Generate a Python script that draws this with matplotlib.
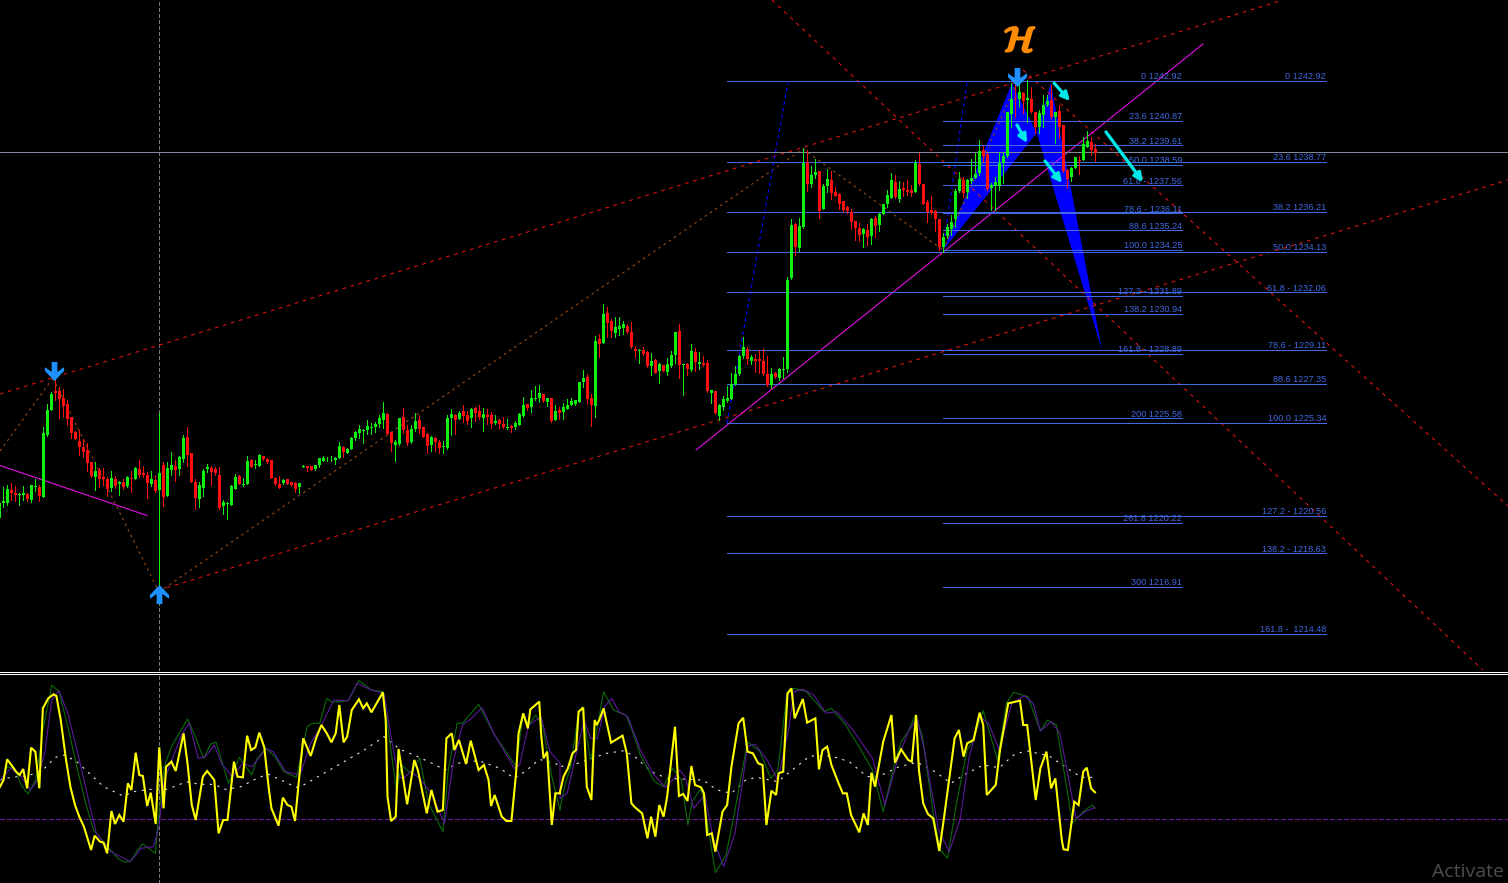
import matplotlib
matplotlib.use("Agg")
import matplotlib.pyplot as plt
import matplotlib.patheffects as pe
from matplotlib.path import Path

plt.rcParams['font.family'] = ['Liberation Sans', 'DejaVu Sans']
plt.rcParams['mathtext.fontset'] = 'stix'

# ---------- candle readings, in third-of-a-point units with a base per segment ----------
BASE_A = 1080
dir_a = "GGGRRGGRGG" "RGGGRRRRRR" "RRRRGRRRGR" "GRGRGRRRGR" "GRGGRGGRRR" "GGGRRRGGGG" "RGGRGGRRRR" "RGRRRGGRRG" "GGGGGGRGGG" "GGGGGGGRRG" "G"
top_a = [430,422,388,390,400,402,400,403,376,377,382,220,150,102,94,94,115,132,172,216,244,262,271,306,334,
         330,352,358,354,358,367,366,352,354,324,328,340,346,358,361,340,316,324,316,319,291,234,232,280,366,
         375,334,322,324,328,346,426,429,378,351,348,371,304,300,311,286,289,298,301,354,373,360,358,367,370,
         370,318,319,319,316,295,294,296,299,293,258,261,267,235,217,207,209,198,201,192,175,160,163,217,247,175]
bot_a = [473,428,430,398,405,406,405,417,420,380,408,410,225,150,100,117,137,177,218,236,260,275,310,348,351,
         357,357,387,384,377,372,382,378,358,356,345,344,368,372,392,390,410,407,330,329,326,296,285,365,413,
         416,383,326,335,340,445,437,431,434,386,371,375,371,321,314,317,297,305,353,372,383,369,371,374,387,
         380,320,323,329,328,316,302,298,301,299,293,276,278,267,233,220,212,210,204,200,192,180,221,250,254,253]
hi_a = [430,380,375,370,378,398,378,398,375,358,375,200,132,95,50,82,88,120,170,212,210,238,250,305,306,
        325,325,350,333,348,362,358,348,332,320,300,318,335,332,345,160,306,305,277,300,288,225,202,278,358,
        365,328,312,318,320,322,420,425,375,342,345,355,288,296,300,282,287,293,300,350,348,357,357,365,365,
        368,315,318,318,315,294,288,292,288,292,247,258,265,232,214,195,208,181,190,185,165,126,158,215,240,175]
lo_a = [473,440,435,420,423,435,420,422,425,392,422,410,228,150,120,173,168,195,233,238,285,290,333,352,390,
        380,375,408,393,385,405,388,380,395,358,350,352,413,378,395,690,437,408,345,362,345,305,318,365,447,
        440,408,335,375,345,447,462,477,435,388,373,378,372,322,325,318,299,310,355,375,385,372,373,378,395,
        400,322,332,331,330,320,303,304,303,312,295,290,280,268,240,235,248,223,222,215,200,205,222,272,302,255]

BASE_B = 900
dir_b = "RRGGRRRGRR" "GGGRGRRGRR" "GRRGRRGRGG" "GRGGGRGRGR" "GGGGGGRRGR"
top_b = [352,390,388,362,360,382,402,411,414,426,437,354,343,345,340,334,344,327,325,334,343,346,346,363,360,
         373,381,378,370,342,316,313,294,294,280,283,294,294,333,331,322,316,304,301,247,235,232,293,124,118]
bot_b = [390,428,426,388,388,410,437,435,426,443,440,443,353,359,356,348,362,355,338,350,353,351,372,368,371,
         381,384,383,381,374,347,323,320,296,293,303,305,363,359,338,335,326,314,311,305,245,296,315,317,131]
hi_b = [324,375,376,340,345,380,400,408,410,420,422,345,327,342,333,316,333,325,322,316,323,327,337,346,357,
        351,357,375,362,340,292,311,270,258,255,281,294,294,316,322,310,298,294,299,246,210,222,281,108,102]
lo_b = [400,435,428,393,398,412,458,452,452,458,458,447,405,402,358,365,372,380,363,357,392,372,384,373,385,
        384,388,395,387,376,350,330,335,300,305,305,317,365,360,357,357,328,316,316,306,260,308,377,350,170]

BASE_C = 390
dir_c = "GRRGGGRRRG" "RRGRGRGGGR" "GRGRGRRGRG" "GGGGGGRGRR" "RRGRGGGGRG" "GRGGRGGRRR" "RRRRRGRGRG" "GGGRGRRRGR" "RR"
top_c = [552,550,574,592,588,582,589,607,657,661,661,666,694,690,702,706,702,675,606,604,702,702,663,667,696,
         700,700,780,784,826,808,805,763,733,679,652,656,682,687,688,692,733,733,730,717,717,450,286,283,289,98,
         97,136,126,124,167,148,151,187,193,214,232,247,274,293,298,301,267,265,252,223,196,151,157,178,174,180,
         181,98,102,163,217]
bot_c = [638,578,602,608,597,594,605,652,662,664,671,707,709,728,724,722,725,707,674,706,705,716,719,695,701,
         706,784,788,850,857,830,813,806,763,731,678,688,693,692,694,731,766,765,740,745,721,716,445,350,353,292,
         163,162,134,242,236,167,190,197,221,240,243,277,293,315,311,320,317,287,285,252,223,203,200,206,180,187,
         188,185,161,221,245]
hi_c = [522,531,567,562,560,574,582,576,648,658,652,662,670,686,700,705,685,662,605,582,702,700,642,655,665,
        678,690,780,782,822,798,768,730,708,675,622,652,676,672,660,658,678,714,726,714,680,440,268,280,265,55,
        60,108,88,122,162,118,122,172,190,212,228,238,272,280,294,282,263,258,248,223,180,128,135,153,157,150,
        165,90,68,162,210]
lo_c = [638,622,622,622,615,612,608,654,680,700,675,712,734,730,758,724,735,710,700,744,795,735,722,722,718,
        708,786,818,852,870,840,815,808,765,735,685,702,702,725,728,735,768,775,745,750,745,725,447,375,362,293,
        182,170,145,263,238,185,208,198,238,245,248,298,330,333,350,345,342,322,302,252,230,205,205,216,198,195,
        198,185,165,222,275]

BASE_D = 60
dir_d = "RRRGGGGGRG" "GGGRRGGGGG" "GRGRGRRGGG" "RGRRRGGRGG" "RR"
top_d = [570,574,597,652,621,605,512,477,480,480,475,462,393,390,402,496,486,428,407,276,237,234,215,220,235,
         236,277,280,255,243,240,277,274,316,450,445,411,420,372,362,366,388]
bot_d = [578,597,680,682,648,628,597,512,518,516,484,475,460,407,506,504,497,497,430,408,283,238,237,243,240,
         277,322,321,285,255,292,290,320,454,477,471,443,423,419,380,391,398]
hi_d = [528,570,597,640,612,585,508,455,470,478,417,398,360,378,400,490,470,395,397,275,190,180,175,215,180,
        200,275,270,225,225,195,275,255,315,448,440,410,408,350,333,352,372]
lo_d = [582,632,690,695,655,645,620,515,530,535,488,475,465,425,510,570,570,510,488,410,320,290,260,280,305,
        280,340,338,320,258,295,368,355,456,503,482,445,462,420,382,404,422]

# fibonacci levels (label text carries the price)
fib_left = [("0", 1242.92), ("23.6", 1240.87), ("38.2", 1239.61), ("50.0", 1238.59), ("61.8 -", 1237.56),
            ("78.6 -", 1236.11), ("88.6", 1235.24), ("100.0", 1234.25), ("127.2 -", 1231.89), ("138.2", 1230.94),
            ("161.8 -", 1228.89), ("200", 1225.58), ("261.8", 1220.22), ("300", 1216.91)]
fib_right = [("0", 1242.92), ("23.6", 1238.77), ("38.2", 1236.21), ("50.0", 1234.13), ("61.8 -", 1232.06),
             ("78.6 -", 1229.11), ("88.6", 1227.35), ("100.0", 1225.34), ("127.2 -", 1220.56), ("138.2 -", 1218.63),
             ("161.8 - ", 1214.48)]

# oscillator readings (third-of-a-point units down from the sub-window frame)
yl_x1 = [0,10,20,32,45,55,65,76,87,99,110,120,135,150,158,170,185,197,210,222,235,255,265,280,290,300,312,322,334,346,358,368,380,390,400,412,422,436,446,458,465,480,492,514,525,537,548,568,580,600,612,625,637,655,665,680,692,703,715,726,740,752,760,780,792,805,816,826,838,849,870,885,900,915,928,940,950,962,972,985,1005,1017,1027,1040,1072,1080,1085,1095,1108,1116,1125,1140,1160,1170,1195,1208,1225,1240,1250,1265,1272,1285,1305,1318,1340,1355,1368,1375,1385,1405,1418,1432,1445,1452,1465,1478,1485,1510,1515,1522,1532,1545,1555,1568]
yl_y1 = [350,330,268,285,305,315,297,355,233,245,355,115,85,73,78,150,270,350,405,440,470,540,497,515,518,550,423,462,435,455,340,360,248,315,318,408,368,462,232,415,290,275,303,190,280,405,450,320,303,330,490,450,450,275,320,322,197,240,232,188,232,350,415,467,383,405,410,453,320,205,258,205,165,190,217,190,105,217,200,120,88,115,100,127,67,150,380,453,440,237,300,403,270,300,430,360,425,420,205,190,240,210,282,212,300,285,330,408,375,440,453,453,310,190,130,175,118,95,190,265,245,465,370,370]
yl_x2 = [0,10,22,35,45,52,65,75,88,97,103,110,122,143,175,187,200,210,230,245,255,267,278,290,300,322,333,345,357,368,378,395,403,412,425,435,455,468,480,500,513,525,540,555,567,578,592,605,612,625,637,648,657,680,692,715,725,735,748,760,780,792,803,815,838,850,862,872,882,905,928,938,955,975,985,997,1005,1017,1030,1045,1062,1075,1105,1117,1130,1140,1158,1175,1185,1195,1220,1232,1255,1288,1297,1308,1332,1345,1362,1375,1387,1405,1410,1422,1440,1452,1465,1475,1487,1498]
yl_y2 = [365,320,295,250,240,125,113,350,390,150,165,150,115,218,197,250,400,412,430,505,440,500,405,440,380,170,378,372,393,288,345,352,370,495,490,545,425,405,290,160,143,245,250,280,285,465,362,375,310,305,70,55,145,87,158,145,298,240,230,285,340,370,370,435,487,430,465,308,350,215,135,278,238,270,275,135,300,400,432,445,543,445,205,180,260,220,210,128,165,375,345,240,100,92,165,165,390,295,245,355,325,510,538,540,395,405,305,293,355,367]

gn_x1 = [0,20,40,60,78,100,120,145,165,190,215,240,262,290,310,330,345,365,385,400,435,440,460,480,525,545,570,590,605,640,670,705,720,745,770,795,830,860,875,895,915,930,975,1005,1040,1072,1110,1125,1150,1175,1200,1240,1255,1280,1295,1340,1385,1445,1465,1480,1500,1520,1545,1568]
gn_y1 = [355,290,295,345,372,330,180,45,65,170,290,400,480,515,540,565,575,575,540,522,550,480,290,230,147,195,265,222,217,340,262,315,265,235,260,305,322,170,160,160,85,97,92,32,60,65,360,285,310,265,400,485,300,160,160,103,195,290,130,165,135,170,320,420]
gn_x2 = [0,15,30,50,62,85,100,122,150,170,185,205,225,265,290,315,340,358,370,395,410,435,465,490,525,560,590,610,635,655,690,740,760,800,840,875,905,935,955,975,995,1015,1045,1065,1085,1110,1140,1155,1185,1225,1250,1270,1310,1345,1365,1390,1435,1465,1490,1498]
gn_y2 = [415,340,290,140,110,270,200,65,120,130,135,190,255,335,350,295,330,465,395,355,440,608,555,420,215,245,325,300,75,55,65,125,115,165,235,300,425,290,215,185,135,200,430,540,565,400,240,215,122,270,100,67,80,183,150,165,460,425,405,415]

pu_x1 = [0,30,60,85,105,125,145,165,190,220,250,270,310,365,395,430,445,460,510,530,555,575,600,620,650,680,705,745,765,800,840,870,900,935,975,1000,1040,1075,1095,1115,1130,1150,1175,1205,1245,1270,1295,1320,1350,1385,1440,1455,1480,1515,1540,1568]
pu_y1 = [330,295,320,360,330,250,90,62,130,260,400,490,545,575,535,530,470,330,190,160,265,260,225,280,320,280,290,237,245,305,315,220,165,90,92,40,60,70,200,320,325,305,325,365,460,270,165,145,113,195,295,285,165,140,245,280]
pu_x2 = [0,20,50,68,85,105,125,145,165,190,225,260,295,320,335,350,375,405,430,458,490,525,545,580,610,640,655,680,710,745,775,820,875,910,945,975,1000,1020,1060,1090,1120,1145,1175,1200,1230,1265,1300,1325,1345,1375,1400,1445,1470,1498]
pu_y2 = [385,370,230,150,205,205,110,85,125,140,240,310,352,325,300,320,415,375,510,590,490,230,222,270,330,180,65,58,75,130,125,180,265,405,270,185,145,240,480,545,450,265,140,160,240,100,77,100,183,155,190,445,425,413]

wh_x1 = [0,30,80,120,155,180,215,250,290,345,375,420,465,500,520,560,600,630,670,720,750,830,850,1020,1075,1120,1170,1210,1245,1280,1340,1400,1440,1470,1510,1568]
wh_y1 = [330,322,317,300,262,255,275,310,350,378,365,358,358,345,335,343,343,358,352,325,312,352,345,240,200,238,260,280,300,280,272,295,325,305,268,285]
wh_x2 = [0,50,90,130,180,210,255,300,400,440,480,520,550,610,650,700,760,810,860,895,950,1000,1050,1095,1130,1185,1230,1270,1305,1370,1420,1460,1498]
wh_y2 = [290,280,265,250,242,260,305,325,330,360,370,330,322,335,300,258,258,275,320,318,290,277,305,340,315,285,293,255,242,258,295,322,322]

# ---------- scales ----------
W, H = 1508, 883
SPLIT = 671.0          # price window ends here
OSC_TOP = 674.0
K = 19.45              # pixels per price unit
TOP_PRICE = 1242.92 + 81 / K

def bar(px):           # bar number of a horizontal pixel
    return (px - 3.33) / 4.0

def price(py):         # price of a vertical pixel
    return TOP_PRICE - py / K

fig = plt.figure(figsize=(W / 100, H / 100), dpi=100, facecolor='black')
ax = fig.add_axes([0, 1 - SPLIT / H, 1, SPLIT / H], facecolor='black')
ax.set_xlim(bar(0), bar(W)); ax.set_ylim(price(SPLIT), price(0)); ax.axis('off')
ax2 = fig.add_axes([0, 0, 1, (H - OSC_TOP) / H], facecolor='black')
ax2.set_xlim(bar(0), bar(W)); ax2.set_ylim(H, OSC_TOP); ax2.axis('off')

for yy in (671.5, 673.5):
    fig.add_artist(plt.Line2D([0, 1], [1 - yy / H] * 2, color='white', lw=0.7, transform=fig.transFigure, antialiased=False))

# ---------- price data ----------
segments = [(BASE_A, dir_a, top_a, bot_a, hi_a, lo_a), (BASE_B, dir_b, top_b, bot_b, hi_b, lo_b),
            (BASE_C, dir_c, top_c, bot_c, hi_c, lo_c), (BASE_D, dir_d, top_d, bot_d, hi_d, lo_d)]
GREEN, RED = '#10f010', '#ff1010'
i = -1
for base, d, t, b, h, l in segments:
    assert len(d) == len(t) == len(b) == len(h) == len(l), (base, len(d), len(t), len(b), len(h), len(l))
    for j in range(len(d)):
        c = GREEN if d[j] == 'G' else RED
        ax.plot([i, i], [price((base + h[j]) / 3), price((base + l[j]) / 3)], color=c, lw=0.7, antialiased=False,
                zorder=6, solid_capstyle='butt')
        ax.bar(i, price((base + t[j]) / 3) - price((base + b[j]) / 3), bottom=price((base + b[j]) / 3), width=0.78,
               color=c, linewidth=0, zorder=6, antialiased=False)
        i += 1

# ---------- trend lines ----------
def line(a, x0, y0, x1, y1, **kw):
    a.plot([bar(x0), bar(x1)], [price(y0), price(y1)], **kw)

RED_D = dict(color='#e81414', lw=0.75, ls=(0, (3.5, 4.5)), zorder=3)
line(ax, 0, 394, 1283, 0, **RED_D)
line(ax, 159, 590, 1508, 180, **RED_D)
line(ax, 772, 0, 1483, 670, **RED_D)
line(ax, 1023, 70, 1508, 506, **RED_D)
BR = dict(color='#8b4513', lw=0.9, ls=(0, (2, 3)), zorder=3)
for (x0, y0, x1, y1) in [(0, 451, 53, 378), (53, 378, 159, 592), (159, 592, 803, 149), (803, 149, 943, 250), (943, 250, 1017, 82)]:
    line(ax, x0, y0, x1, y1, **BR)
BL = dict(color='#0000e6', lw=0.9, ls=(0, (3, 2.5)), zorder=3)
line(ax, 727, 423, 788, 82, **BL)
line(ax, 943, 250, 967, 82, **BL)
MG = dict(color='#e60fe6', lw=0.8, zorder=3.5)
line(ax, 0, 465.5, 147, 515.5, **MG)
line(ax, 696, 450, 1203, 44, **MG)

# harmonic wedges
ax.fill([bar(943.3), bar(1012), bar(1036.7)], [price(250), price(83), price(133)], color='#0000ff', lw=0, zorder=2)
ax.fill([bar(1036.7), bar(1050.7), bar(1102)], [price(133), price(83), price(350)], color='#0000ff', lw=0, zorder=2)

# fib lines
FIB = '#4169e1'
for lab, p in fib_left:
    ax.plot([bar(943), bar(1182)], [p, p], color=FIB, lw=0.7, zorder=4, antialiased=False)
    ax.annotate(f"{lab} {p:.2f}", (bar(1182), p), xytext=(0, -0.2), textcoords='offset points', ha='right', va='bottom',
                fontsize=6.6, color=FIB, zorder=4)
for lab, p in fib_right:
    ax.plot([bar(727), bar(1326)], [p, p], color=FIB, lw=0.7, zorder=4, antialiased=False)
    ax.annotate(f"{lab} {p:.2f}", (bar(1326), p), xytext=(0, -0.2), textcoords='offset points', ha='right', va='bottom',
                fontsize=6.6, color=FIB, zorder=4)

# crosshair
ax.axhline(price(152.5), color='#7f8a9c', lw=0.7, zorder=5, antialiased=False)
GR = dict(color='#777777', lw=0.7, ls=(0, (3.5, 3)), zorder=1, antialiased=False)
ax.axvline(bar(159.3), **GR)
ax2.axvline(bar(159.3), **GR)

# cyan signal arrows
for (x0, y0, x1, y1), lw in zip([(1054, 83, 1070, 101), (1017, 125, 1027, 143), (1045, 161, 1062, 183), (1106, 132, 1143, 182)], [2.3, 2.3, 2.3, 2.4]):
    ax.annotate('', xy=(bar(x1), price(y1)), xytext=(bar(x0), price(y0)), zorder=8,
                arrowprops=dict(arrowstyle='-|>,head_length=0.5,head_width=0.25', color='#00e8e8', lw=lw, shrinkA=0, shrinkB=0))

# dodger-blue turn arrows
down = Path([(-0.3, 1), (0.3, 1), (0.3, -0.05), (1, 0.45), (1, 0.05), (0, -1), (-1, 0.05), (-1, 0.45), (-0.3, -0.05), (-0.3, 1)], closed=True)
up = Path([(x, -y) for x, y in down.vertices], closed=True)
ax.scatter([bar(53.7), bar(1017)], [price(371), price(77)], marker=down, s=190, color='#1e90ff', lw=0, zorder=9)
ax.scatter([bar(158.5)], [price(594)], marker=up, s=190, color='#1e90ff', lw=0, zorder=9)

# logo and watermark
ax.text(bar(1020), price(42), r'$\mathcal{H}$', color='#ff8c00', fontsize=26, ha='center', va='center', zorder=9,
        path_effects=[pe.withStroke(linewidth=1.8, foreground='#ff8c00')])
ax2.text(bar(1504), 872, 'Activate', color='#4d4d4d', fontsize=14, ha='right', va='center', family=['Open Sans', 'DejaVu Sans'])

# ---------- oscillator ----------
def ox(xs, shift):
    return [bar(shift + v / 2.8) for v in xs]

def oy(ys):
    return [670 + v / 3 for v in ys]

ax2.axhline(819.3, color='#7a10a0', lw=0.7, ls=(0, (5, 3)), zorder=1, antialiased=False)
ax2.plot(ox(wh_x1, 0) + ox(wh_x2, 560), oy(wh_y1) + oy(wh_y2), color='#e8e8e8', lw=0.8, ls=(0, (2, 5)), zorder=2)
ax2.plot(ox(gn_x1, 0) + ox(gn_x2, 560), oy(gn_y1) + oy(gn_y2), color='#0a6a0a', lw=0.8, zorder=3)
ax2.plot(ox(pu_x1, 0) + ox(pu_x2, 560), oy(pu_y1) + oy(pu_y2), color='#5a189a', lw=0.8, zorder=3)
ax2.plot(ox(yl_x1, 0) + ox(yl_x2, 560), oy(yl_y1) + oy(yl_y2), color='#ffff00', lw=1.5, zorder=4, solid_joinstyle='miter')

fig.savefig('out.png', dpi=100, facecolor='black')
